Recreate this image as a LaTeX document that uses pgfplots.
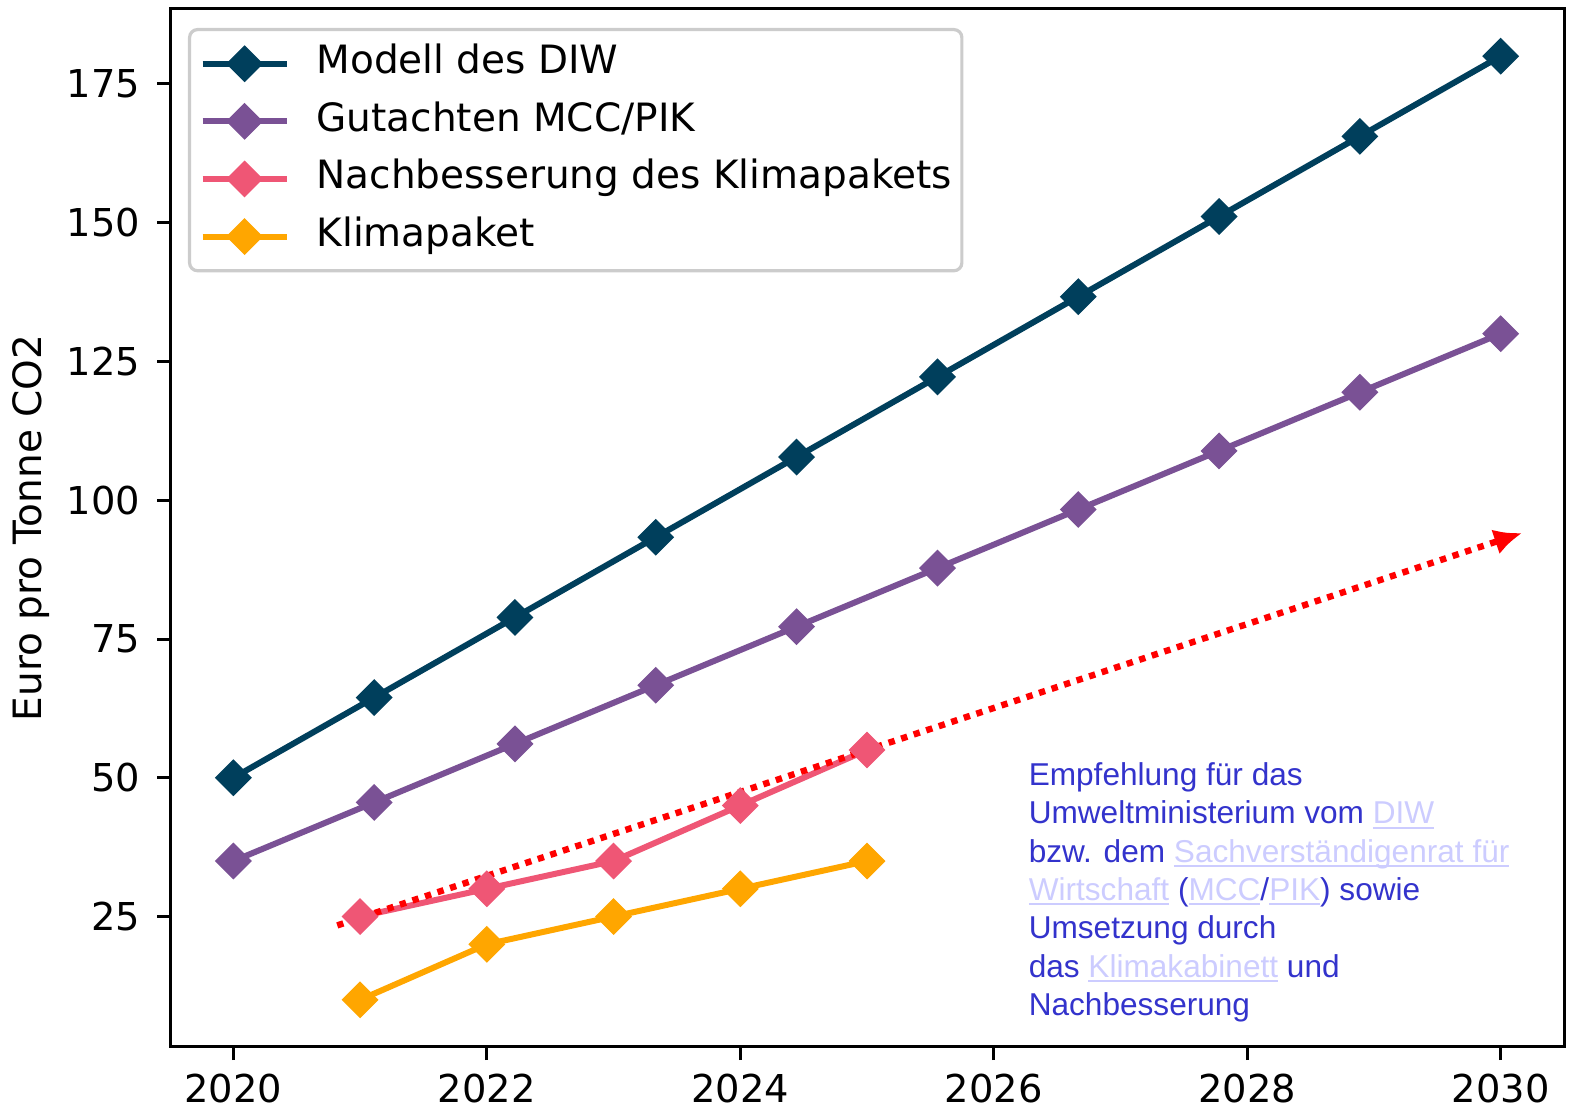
\documentclass[border=0pt]{standalone}
\usepackage{pgfplots}
\pgfplotsset{compat=1.18}
\usepackage{fontspec}
\setmainfont{DejaVu Sans}
\newfontfamily\annofont{Liberation Sans}
\usetikzlibrary{arrows.meta}
\definecolor{cDIW}{HTML}{003F5C}
\definecolor{cMCC}{HTML}{7A5195}
\definecolor{cNach}{HTML}{EF5675}
\definecolor{cKlima}{HTML}{FFA600}
\definecolor{annoblue}{HTML}{3333CC}
\definecolor{linkc}{HTML}{CCCCFF}
\definecolor{legframe}{HTML}{CCCCCC}
\pgfdeclareplotmark{Dmark}{%
  \pgfpathmoveto{\pgfqpoint{0pt}{\pgfplotmarksize}}%
  \pgfpathlineto{\pgfqpoint{\pgfplotmarksize}{0pt}}%
  \pgfpathlineto{\pgfqpoint{0pt}{-\pgfplotmarksize}}%
  \pgfpathlineto{\pgfqpoint{-\pgfplotmarksize}{0pt}}%
  \pgfpathclose
  \pgfusepathqfillstroke}
\newcommand\lnk[1]{\textcolor{linkc}{\setbox0\hbox{#1}\rlap{\rule[-1.2pt]{\wd0}{0.5pt}}\box0}}
\newcommand\fs{\fontsize{9.6}{11.5}\selectfont}
\newcommand\fl{\fontsize{9.75}{11.7}\selectfont}
\begin{document}
\begin{tikzpicture}
\begin{axis}[
  name=ax,
  scale only axis,
  width=348.5pt, height=259.5pt,
  xmin=2019.5, xmax=2030.5,
  ymin=1.5, ymax=188.5,
  xtick={2020,2022,...,2030},
  ytick={25,50,...,175},
  axis line style={line width=0.75pt},
  tick style={line width=0.75pt, black},
  major tick length=3.25pt,
  tick align=outside,
  xtick pos=bottom, ytick pos=left,
  /pgf/number format/assume math mode=true,
  /pgf/number format/1000 sep={},
  ticklabel style={font=\fs},
  xticklabel style={anchor=north, inner sep=0pt, yshift=-3.3pt},
  yticklabel style={anchor=east, inner sep=0pt, xshift=-4pt},
  ylabel={Euro pro Tonne CO2},
  ylabel style={font=\fl, at={(axis description cs:-0.0995,0.5)}, anchor=center, rotate=0},
  legend cell align=left,
  legend style={at={(0.0129,0.9817)}, anchor=north west, draw=legframe,
    line width=0.8pt, rounded corners=2pt, font=\fl,
    inner xsep=2.5pt, inner ysep=3.75pt, row sep=4.8pt,
    nodes={inner sep=0pt, text height=7.3pt, text depth=2.3pt}},
  legend image code/.code={%
    \draw[mark repeat=2,mark phase=2] plot coordinates {(0pt,0pt) (10.5pt,0pt) (21pt,0pt)};
    \path (27.75pt,0pt);},
  every axis plot/.append style={line width=1.5pt, mark=Dmark, mark size=4.4pt,
    mark options={solid, line width=0.3pt}},
]
\addplot[color=cDIW] coordinates {
 (2020,50) (2021.111,64.444) (2022.222,78.889) (2023.333,93.333) (2024.444,107.778)
 (2025.556,122.222) (2026.667,136.667) (2027.778,151.111) (2028.889,165.556) (2030,180)};
\addlegendentry{Modell des DIW}
\addplot[color=cMCC] coordinates {
 (2020,35) (2021.111,45.556) (2022.222,56.111) (2023.333,66.667) (2024.444,77.222)
 (2025.556,87.778) (2026.667,98.333) (2027.778,108.889) (2028.889,119.444) (2030,130)};
\addlegendentry{Gutachten MCC/PIK}
\addplot[color=cNach] coordinates {
 (2021,25) (2022,30) (2023,35) (2024,45) (2025,55)};
\addlegendentry{Nachbesserung des Klimapakets}
\addplot[color=cKlima] coordinates {
 (2021,10) (2022,20) (2023,25) (2024,30) (2025,35)};
\addlegendentry{Klimapaket\hspace*{0pt}}
\addplot[red, line width=1.6pt, mark=none, dash pattern=on 1.6pt off 1.7pt,
  -{Latex[length=7pt,width=6.5pt]}, forget plot] coordinates {
 (2020.82,23.4) (2030.17,94.1)};
\node[anchor=north west, inner sep=0pt, align=left, text=annoblue,
  font=\fontsize{7.9}{9.6}\selectfont\annofont] at (axis cs:2026.27,52.9) {%
Empfehlung für das\\
Umweltministerium vom \lnk{DIW}\\
bzw. dem \lnk{Sachverständigenrat für}\\
\lnk{Wirtschaft} (\lnk{MCC}/\lnk{PIK}) sowie\\
Umsetzung durch\\
das \lnk{Klimakabinett} und\\
Nachbesserung};
\end{axis}
\pgfresetboundingbox
\useasboundingbox (ax.south west) ++(-42.5pt,-15.75pt) rectangle ++(392.25pt,277.5pt);
\end{tikzpicture}
\end{document}
